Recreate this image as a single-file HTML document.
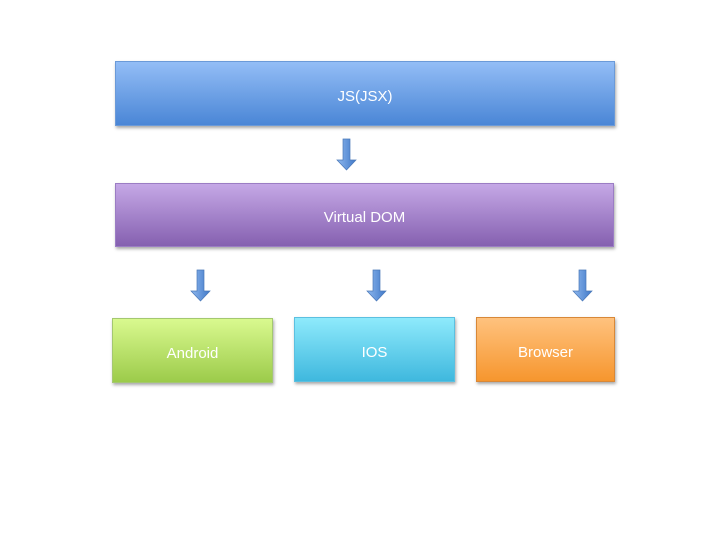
<!DOCTYPE html>
<html><head><style>
body{margin:0;width:720px;height:540px;background:#fff;position:relative;font-family:"Liberation Sans",sans-serif;overflow:hidden}
.b{position:absolute;display:flex;align-items:center;justify-content:center;color:#fff;font-size:15px;padding-top:5px;box-shadow:1px 2px 3px rgba(0,0,0,.35);box-sizing:border-box}
svg{position:absolute}
</style></head><body>
<div class="b" style="left:115px;top:61px;width:500px;height:65px;background:linear-gradient(#93bdf6,#4a86d6);border:1px solid #6b9ad8">JS(JSX)</div>
<div class="b" style="left:115px;top:183px;width:499px;height:64px;background:linear-gradient(#c5a8e6,#8560b0);border:1px solid #9b7dc4">Virtual DOM</div>
<div class="b" style="left:112px;top:318px;width:161px;height:65px;background:linear-gradient(#d9f98f,#9ccb4a);border:1px solid #a4c870">Android</div>
<div class="b" style="left:294px;top:317px;width:161px;height:65px;background:linear-gradient(#8eeafc,#3fb8de);border:1px solid #5cc0e0">IOS</div>
<div class="b" style="left:476px;top:317px;width:139px;height:65px;background:linear-gradient(#ffc27e,#f6962e);border:1px solid #d88838">Browser</div>
<svg width="720" height="540" style="left:0;top:0">
<defs><linearGradient id="g" x1="0" x2="1"><stop offset="0" stop-color="#8fb8ee"/><stop offset="1" stop-color="#3f78c8"/></linearGradient></defs>
<g fill="url(#g)" stroke="#4a78b8" stroke-width="0.7">
<path d="M343,139h7v21h6l-9.5,10l-9.5,-10h6z"/>
<path d="M197,270h7v21h6l-9.5,10l-9.5,-10h6z"/>
<path d="M373,270h7v21h6l-9.5,10l-9.5,-10h6z"/>
<path d="M579,270h7v21h6l-9.5,10l-9.5,-10h6z"/>
</g></svg>
</body></html>
